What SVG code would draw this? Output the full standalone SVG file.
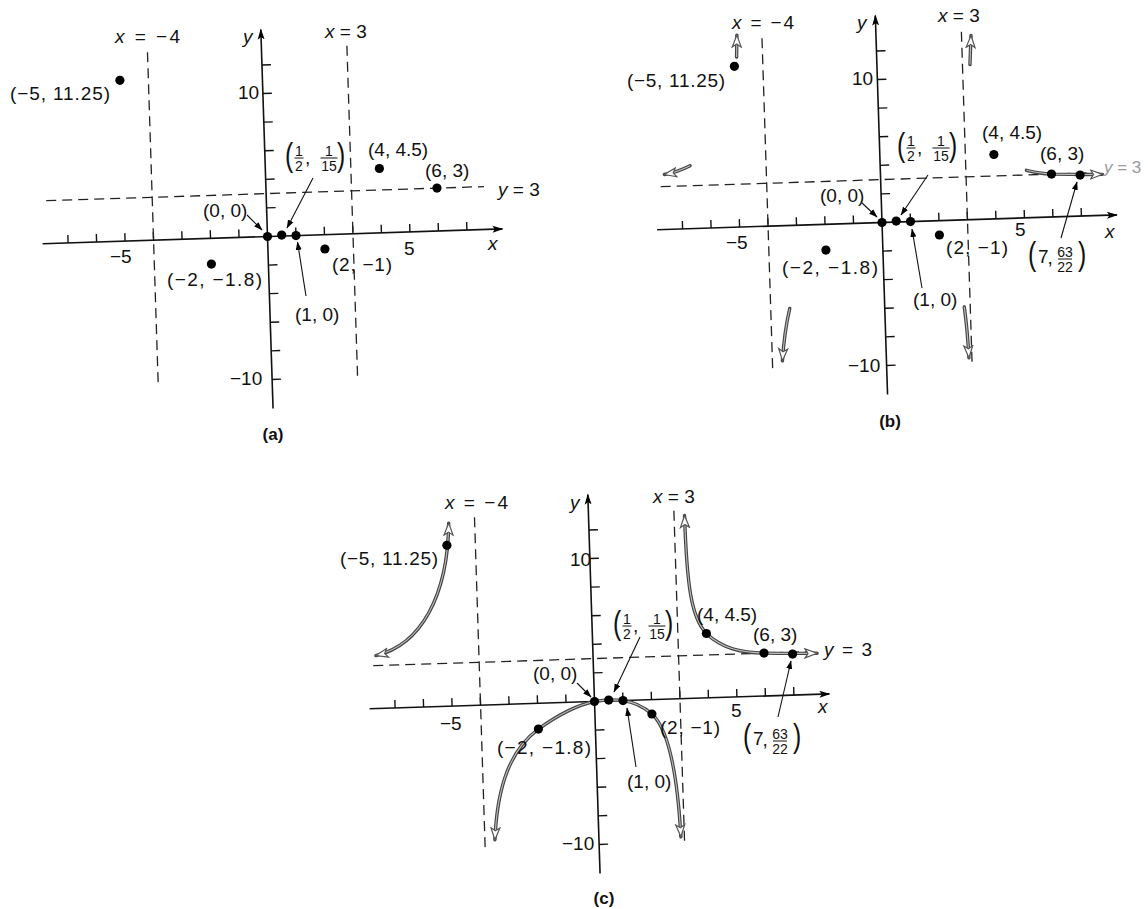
<svg xmlns="http://www.w3.org/2000/svg" xmlns:xlink="http://www.w3.org/1999/xlink" width="1148" height="909" viewBox="0 0 1148 909">
<style>
.lbl{font-family:"Liberation Sans",Arial,sans-serif;font-size:19px;fill:#111}
.it{font-style:italic}
.frac{font-size:14px;text-anchor:middle}
.par{font-size:33px}
.cap{font-weight:bold;font-size:17px;text-anchor:middle}
.axis{stroke:#111;stroke-width:1.6;fill:none}
.tick{stroke:#111;stroke-width:1.4;fill:none}
.asym{stroke:#222;stroke-width:1.3;stroke-dasharray:10 6;fill:none}
.ptr{stroke:#111;stroke-width:1.1;fill:none}
.bar{stroke:#111;stroke-width:1}
.cO{stroke:#444;stroke-width:3.4;fill:none;stroke-linecap:round}
.cI{stroke:#bdbdbd;stroke-width:1.1;fill:none}
.dot{fill:#000}
</style>
<defs>
<marker id="axArrow" markerWidth="13" markerHeight="9" refX="10" refY="4" orient="auto" markerUnits="userSpaceOnUse"><path d="M0,0.5 L11,4 L0,7.5 L2.5,4 Z" fill="#000"/></marker>
<marker id="ptrArrow" markerWidth="10" markerHeight="8" refX="8" refY="3.5" orient="auto" markerUnits="userSpaceOnUse"><path d="M0,0.5 L8.5,3.5 L0,6.5 Z" fill="#000"/></marker>
<marker id="open" markerWidth="16" markerHeight="12" refX="13" refY="5.5" orient="auto-start-reverse" markerUnits="userSpaceOnUse"><path d="M1,1 L13,5.5 L1,10 L4,5.5 Z" fill="#fff" stroke="#555" stroke-width="1.2"/></marker>
<g id="axes">
<line class="axis" x1="-225" y1="0" x2="235" y2="0" marker-end="url(#axArrow)"/>
<line class="axis" x1="0" y1="172" x2="0" y2="-207" marker-end="url(#axArrow)"/>
<path class="tick" d="M-199.5,0v-8M-171,0v-8M-142.5,0v-8M-114,0v-8M-85.5,0v-8M-57,0v-8M-28.5,0v-8M28.5,0v-8M57,0v-8M85.5,0v-8M114,0v-8M142.5,0v-8M171,0v-8M199.5,0v-8"/>
<path class="tick" d="M0,-28.6h9M0,-57.2h9M0,-85.8h9M0,-114.4h9M0,-143h9M0,-171.6h9M0,28.6h9M0,57.2h9M0,85.8h9M0,114.4h9M0,143h9"/>
<line class="asym" x1="-114" y1="-188" x2="-114" y2="142"/>
<line class="asym" x1="85.5" y1="-188" x2="85.5" y2="142"/>
<line class="asym" x1="-220" y1="-42.9" x2="218" y2="-42.9"/>
</g>
</defs>

<!-- ============ PANEL (a) ============ -->
<g id="panel-a">
<use xlink:href="#axes" transform="translate(267.5,236.5) rotate(-1.85)"/>
<g id="a-connectors">
<line class="ptr" x1="247" y1="215" x2="262" y2="230" marker-end="url(#ptrArrow)"/>
<line class="ptr" x1="313" y1="178" x2="287" y2="228" marker-end="url(#ptrArrow)"/>
<line class="ptr" x1="306" y1="296" x2="297.5" y2="242" marker-end="url(#ptrArrow)"/>
</g>
<g id="a-labels">
<text class="lbl" x="115" y="43" textLength="65"><tspan class="it">x</tspan> = −4</text>
<text class="lbl" x="325" y="38"><tspan class="it">x</tspan> = 3</text>
<text class="lbl it" x="243" y="43">y</text>
<text class="lbl" x="238" y="99">10</text>
<text class="lbl" x="230" y="385">−10</text>
<text class="lbl" x="110" y="263">−5</text>
<text class="lbl" x="404" y="255">5</text>
<text class="lbl it" x="488" y="250">x</text>
<text class="lbl" x="498" y="196"><tspan class="it">y</tspan> = 3</text>
<text class="cap lbl" x="273" y="440">(a)</text>
</g>
<g id="a-p1"><circle class="dot" cx="119.9" cy="80.3" r="4.6"/><text class="lbl" x="10" y="100" textLength="100">(−5, 11.25)</text></g>
<g id="a-p2"><circle class="dot" cx="211.4" cy="264.1" r="4.6"/><text class="lbl" x="167" y="286" textLength="95">(−2, −1.8)</text></g>
<g id="a-p3"><circle class="dot" cx="267.5" cy="236.5" r="4.6"/><text class="lbl" x="203" y="217">(0, 0)</text></g>
<g id="a-p4"><circle class="dot" cx="281.7" cy="235.1" r="4.6"/>
<g transform="translate(285,158)">
<text class="lbl par" transform="translate(0,8) scale(0.75,1)">(</text>
<text class="lbl frac" x="14" y="-2">1</text><line class="bar" x1="9.5" y1="0" x2="18.5" y2="0"/><text class="lbl frac" x="14" y="13">2</text>
<text class="lbl" x="20" y="6">,</text>
<text class="lbl frac" x="44" y="-2">1</text><line class="bar" x1="35.5" y1="0" x2="52.5" y2="0"/><text class="lbl frac" x="44" y="13">15</text>
<text class="lbl par" transform="translate(52,8) scale(0.75,1)">)</text>
</g></g>
<g id="a-p5"><circle class="dot" cx="296" cy="235.6" r="4.6"/><text class="lbl" x="295" y="321">(1, 0)</text></g>
<g id="a-p6"><circle class="dot" cx="324.9" cy="249" r="4.6"/><text class="lbl" x="332" y="271" textLength="60">(2, −1)</text></g>
<g id="a-p7"><circle class="dot" cx="379.4" cy="168.5" r="4.6"/><text class="lbl" x="368" y="156">(4, 4.5)</text></g>
<g id="a-p8"><circle class="dot" cx="437" cy="188.1" r="4.6"/><text class="lbl" x="425" y="177">(6, 3)</text></g>
</g>

<!-- ============ PANEL (b) ============ -->
<g id="panel-b">
<use xlink:href="#axes" transform="translate(882,222.5) rotate(-1.85)"/>
<g id="b-curves" transform="translate(882,222.5) rotate(-1.85)">
<path class="cO" d="M-140,-170 L-139,-192"/><path class="cI" d="M-140,-170 L-139,-192" marker-end="url(#open)"/>
<path class="cO" d="M-190,-63 Q-203,-57 -216,-55"/><path class="cI" d="M-190,-63 Q-203,-57 -216,-55" marker-end="url(#open)"/>
<path class="cO" d="M-95,83 Q-101,105 -104,135"/><path class="cI" d="M-95,83 Q-101,105 -104,135" marker-end="url(#open)"/>
<path class="cO" d="M79.5,87 Q82,110 82.5,138"/><path class="cI" d="M79.5,87 Q82,110 82.5,138" marker-end="url(#open)"/>
<path class="cO" d="M93,-155 L95,-184"/><path class="cI" d="M93,-155 L95,-184" marker-end="url(#open)"/>
<path class="cO" d="M146,-47.5 C155,-45 163,-43.5 171,-42.9 C185,-42.2 200,-41.5 222,-41"/><path class="cI" d="M146,-47.5 C155,-45 163,-43.5 171,-42.9 C185,-42.2 200,-41.5 222,-41" marker-end="url(#open)"/>
</g>
<g id="b-connectors">
<line class="ptr" x1="862" y1="203" x2="877" y2="217" marker-end="url(#ptrArrow)"/>
<line class="ptr" x1="928" y1="175" x2="901" y2="215" marker-end="url(#ptrArrow)"/>
<line class="ptr" x1="922" y1="288" x2="912" y2="229" marker-end="url(#ptrArrow)"/>
<line class="ptr" x1="1061" y1="238" x2="1077" y2="182" marker-end="url(#ptrArrow)"/>
</g>
<g id="b-labels">
<text class="lbl" x="732" y="29" textLength="62"><tspan class="it">x</tspan> = −4</text>
<text class="lbl" x="938" y="22"><tspan class="it">x</tspan> = 3</text>
<text class="lbl it" x="857" y="29">y</text>
<text class="lbl" x="852" y="85">10</text>
<text class="lbl" x="848" y="372">−10</text>
<text class="lbl" x="726" y="249">−5</text>
<text class="lbl" x="1015" y="236">5</text>
<text class="lbl it" x="1105" y="238">x</text>
<text class="lbl" x="1104" y="173" style="fill:#9a9a9a;font-size:17px"><tspan class="it">y</tspan> = 3</text>
<text class="cap lbl" x="890" y="427">(b)</text>
</g>
<g id="b-p1"><circle class="dot" cx="734.4" cy="66.3" r="4.6"/><text class="lbl" x="627" y="87" textLength="98">(−5, 11.25)</text></g>
<g id="b-p2"><circle class="dot" cx="825.9" cy="250.1" r="4.6"/><text class="lbl" x="782" y="274" textLength="96">(−2, −1.8)</text></g>
<g id="b-p3"><circle class="dot" cx="882" cy="222.5" r="4.6"/><text class="lbl" x="820" y="202">(0, 0)</text></g>
<g id="b-p4"><circle class="dot" cx="896.2" cy="221.1" r="4.6"/>
<g transform="translate(897,148)">
<text class="lbl par" transform="translate(0,8) scale(0.75,1)">(</text>
<text class="lbl frac" x="14" y="-2">1</text><line class="bar" x1="9.5" y1="0" x2="18.5" y2="0"/><text class="lbl frac" x="14" y="13">2</text>
<text class="lbl" x="20" y="6">,</text>
<text class="lbl frac" x="44" y="-2">1</text><line class="bar" x1="35.5" y1="0" x2="52.5" y2="0"/><text class="lbl frac" x="44" y="13">15</text>
<text class="lbl par" transform="translate(52,8) scale(0.75,1)">)</text>
</g></g>
<g id="b-p5"><circle class="dot" cx="910.5" cy="221.6" r="4.6"/><text class="lbl" x="913" y="306">(1, 0)</text></g>
<g id="b-p6"><circle class="dot" cx="939.4" cy="235" r="4.6"/><text class="lbl" x="946" y="254" textLength="62">(2, −1)</text></g>
<g id="b-p7"><circle class="dot" cx="993.9" cy="154.5" r="4.6"/><text class="lbl" x="982" y="139">(4, 4.5)</text></g>
<g id="b-p8"><circle class="dot" cx="1051.5" cy="174.1" r="4.6"/><text class="lbl" x="1040" y="160">(6, 3)</text></g>
<g id="b-p9"><circle class="dot" cx="1080.1" cy="175.1" r="4.6"/>
<g transform="translate(1028,259)">
<text class="lbl par" transform="translate(0,6) scale(0.75,1)">(</text>
<text class="lbl" x="10" y="4">7</text>
<text class="lbl" x="19.5" y="5">,</text>
<text class="lbl frac" x="37" y="-2">63</text><line class="bar" x1="30" y1="0" x2="44" y2="0"/><text class="lbl frac" x="37" y="13">22</text>
<text class="lbl par" transform="translate(50,6) scale(0.75,1)">)</text>
</g></g>
</g>

<!-- ============ PANEL (c) ============ -->
<g id="panel-c">
<use xlink:href="#axes" transform="translate(594.5,701.5) rotate(-1.85)"/>
<g id="c-curves" transform="translate(594.5,701.5) rotate(-1.85)">
<path class="cO" d="M-140,-183 C-143,-110 -172,-62 -217,-53"/>
<path class="cI" d="M-140,-183 C-143,-110 -172,-62 -217,-53" marker-start="url(#open)" marker-end="url(#open)"/>
<path class="cO" d="M-104,135 C-100,80 -85,45 -57,25.7 C-38,13 -18,3 0,0 C8,-1.3 20,-1.3 28.5,0 C38,1.5 48,6 57,14.3 C68,25 80,55 82,138"/>
<path class="cI" d="M-104,135 C-100,80 -85,45 -57,25.7 C-38,13 -18,3 0,0 C8,-1.3 20,-1.3 28.5,0 C38,1.5 48,6 57,14.3 C68,25 80,55 82,138" marker-start="url(#open)" marker-end="url(#open)"/>
<path class="cO" d="M96,-183 C96,-110 100,-80 114,-64.35 C130,-48 150,-44 171,-42.9 C185,-42.2 200,-41.5 224,-41"/>
<path class="cI" d="M96,-183 C96,-110 100,-80 114,-64.35 C130,-48 150,-44 171,-42.9 C185,-42.2 200,-41.5 224,-41" marker-start="url(#open)" marker-end="url(#open)"/>
</g>
<g id="c-connectors">
<line class="ptr" x1="577" y1="683" x2="591" y2="697" marker-end="url(#ptrArrow)"/>
<line class="ptr" x1="640" y1="637" x2="614" y2="692" marker-end="url(#ptrArrow)"/>
<line class="ptr" x1="636" y1="767" x2="627" y2="708" marker-end="url(#ptrArrow)"/>
<line class="ptr" x1="778" y1="717" x2="791" y2="661" marker-end="url(#ptrArrow)"/>
</g>
<g id="c-labels">
<text class="lbl" x="445" y="509" textLength="63"><tspan class="it">x</tspan> = −4</text>
<text class="lbl" x="653" y="503"><tspan class="it">x</tspan> = 3</text>
<text class="lbl it" x="570" y="509">y</text>
<text class="lbl" x="570" y="566">10</text>
<text class="lbl" x="562" y="850">−10</text>
<text class="lbl" x="440" y="730">−5</text>
<text class="lbl" x="731" y="717">5</text>
<text class="lbl it" x="818" y="713">x</text>
<text class="lbl" x="824" y="656" textLength="48"><tspan class="it">y</tspan> = 3</text>
<text class="cap lbl" x="604" y="904">(c)</text>
</g>
<g id="c-p1"><circle class="dot" cx="446.9" cy="545.3" r="4.6"/><text class="lbl" x="340" y="565" textLength="98">(−5, 11.25)</text></g>
<g id="c-p2"><circle class="dot" cx="538.4" cy="729.1" r="4.6"/><text class="lbl" x="497" y="754" textLength="94">(−2, −1.8)</text></g>
<g id="c-p3"><circle class="dot" cx="594.5" cy="701.5" r="4.6"/><text class="lbl" x="533" y="680">(0, 0)</text></g>
<g id="c-p4"><circle class="dot" cx="608.7" cy="700.1" r="4.6"/>
<g transform="translate(613,626)">
<text class="lbl par" transform="translate(0,8) scale(0.75,1)">(</text>
<text class="lbl frac" x="14" y="-2">1</text><line class="bar" x1="9.5" y1="0" x2="18.5" y2="0"/><text class="lbl frac" x="14" y="13">2</text>
<text class="lbl" x="20" y="6">,</text>
<text class="lbl frac" x="44" y="-2">1</text><line class="bar" x1="35.5" y1="0" x2="52.5" y2="0"/><text class="lbl frac" x="44" y="13">15</text>
<text class="lbl par" transform="translate(52,8) scale(0.75,1)">)</text>
</g></g>
<g id="c-p5"><circle class="dot" cx="623" cy="700.6" r="4.6"/><text class="lbl" x="627" y="788">(1, 0)</text></g>
<g id="c-p6"><circle class="dot" cx="651.9" cy="714" r="4.6"/><text class="lbl" x="660" y="734" textLength="60">(2, −1)</text></g>
<g id="c-p7"><circle class="dot" cx="706.4" cy="633.5" r="4.6"/><text class="lbl" x="697" y="621">(4, 4.5)</text></g>
<g id="c-p8"><circle class="dot" cx="764" cy="653.1" r="4.6"/><text class="lbl" x="753" y="641">(6, 3)</text></g>
<g id="c-p9"><circle class="dot" cx="792.6" cy="654.1" r="4.6"/>
<g transform="translate(743,741)">
<text class="lbl par" transform="translate(0,6) scale(0.75,1)">(</text>
<text class="lbl" x="10" y="4">7</text>
<text class="lbl" x="19.5" y="5">,</text>
<text class="lbl frac" x="37" y="-2">63</text><line class="bar" x1="30" y1="0" x2="44" y2="0"/><text class="lbl frac" x="37" y="13">22</text>
<text class="lbl par" transform="translate(50,6) scale(0.75,1)">)</text>
</g></g>
</g>
</svg>
